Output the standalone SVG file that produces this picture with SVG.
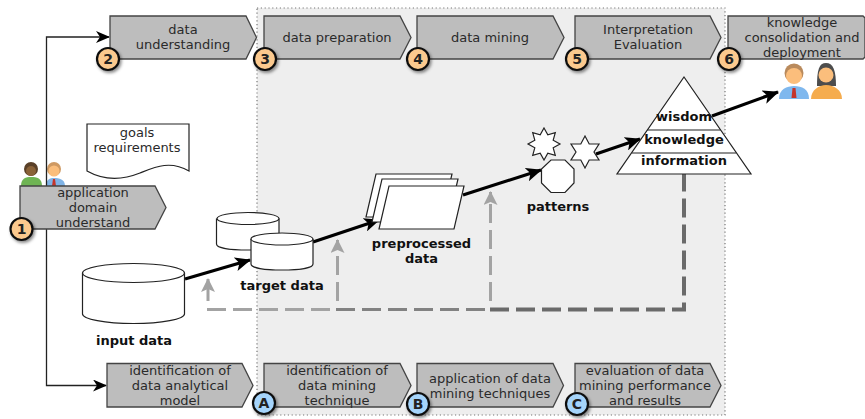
<svg xmlns="http://www.w3.org/2000/svg" width="865" height="419" viewBox="0 0 865 419">
<style>
text{font-family:"DejaVu Sans",sans-serif;font-size:13px;fill:#2a2a2a;text-anchor:middle}
.b{font-weight:bold;fill:#111}
.ch{fill:#bdbdbd;stroke:#444;stroke-width:1.3}
.w{fill:#fff;stroke:#222;stroke-width:1.2}
.co{fill:#fbc98e;stroke:#111;stroke-width:2.2;filter:url(#sh)}
.cb{fill:#a5d4fb;stroke:#111;stroke-width:2.2;filter:url(#sh)}
.n{font-weight:bold;font-size:14px;fill:#222}
.thin{fill:none;stroke:#222;stroke-width:1.3}
.thick{fill:none;stroke:#000;stroke-width:3.2}
</style>
<defs>
<filter id="sh" x="-40%" y="-40%" width="200%" height="200%"><feDropShadow dx="1.5" dy="2" stdDeviation="1.5" flood-color="#000" flood-opacity=".45"/></filter>
<marker id="a1" viewBox="0 0 14 12" refX="13" refY="6" markerUnits="userSpaceOnUse" markerWidth="14" markerHeight="12" orient="auto"><path d="M0 0L14 6L0 12L4 6Z" fill="#000"/></marker>
<marker id="a2" viewBox="0 0 16 14" refX="15" refY="7" markerUnits="userSpaceOnUse" markerWidth="16" markerHeight="14" orient="auto"><path d="M0 0L16 7L0 14L4 7Z" fill="#000"/></marker>
<marker id="a3" viewBox="0 0 14 14" refX="13" refY="7" markerUnits="userSpaceOnUse" markerWidth="14" markerHeight="14" orient="auto"><path d="M0 0L14 7L0 14L3 7Z" fill="#a3a3a3"/></marker>
</defs>

<rect id="region" x="257" y="8" width="468" height="407" fill="#eeeeee" stroke="#777" stroke-width="1.2" stroke-dasharray="1.2 2.6"/>

<g id="people-top">
<circle cx="31" cy="169" r="7" fill="#5a4028"/><path d="M21 186C21 178 26 177 31 177C37 177 42 178 42 186Z" fill="#6fb454"/><circle cx="31" cy="171" r="5" fill="#8a6238"/>
<circle cx="54" cy="169" r="7" fill="#cf9a63"/><circle cx="54" cy="171" r="5.500" fill="#fbbe7c"/><path d="M46 186C46 179 50 178 54 178C59 178 65 179 65 186Z" fill="#7fb3e6"/><path d="M53 179H55L56 186H52Z" fill="#c4342b"/>
</g>

<g id="connectors">
<path class="thin" d="M46.500 186V37H109" marker-end="url(#a1)"/>
<path class="thin" d="M46.500 229V385.500H106" marker-end="url(#a1)"/>
<path class="thick" d="M185 279L250 260" marker-end="url(#a2)"/>
<path class="thick" d="M313 242L379 220" marker-end="url(#a2)"/>
<path class="thick" d="M463 195L541 170" marker-end="url(#a2)"/>
<path class="thick" d="M596 154L640 139" marker-end="url(#a2)"/>
<path class="thick" d="M712 116L778 92" marker-end="url(#a2)"/>
<path fill="none" stroke="#a3a3a3" stroke-width="3" d="M208 301V279" marker-end="url(#a3)"/>
<path fill="none" stroke="#a3a3a3" stroke-width="3" stroke-dasharray="19 7" d="M337.500 301V240" marker-end="url(#a3)"/>
<path fill="none" stroke="#a3a3a3" stroke-width="3" stroke-dasharray="19 7" d="M490.500 301V192" marker-end="url(#a3)"/>
<path fill="none" stroke="#a3a3a3" stroke-width="3" stroke-dasharray="19 7" d="M207 309.500H337"/>
<path fill="none" stroke="#828282" stroke-width="3" stroke-dasharray="19 7" d="M336 309.500H490"/>
<path fill="none" stroke="#6a6a6a" stroke-width="4" stroke-dasharray="19 7" d="M490 309.500H684V174"/>
</g>

<g id="goals"><path class="w" d="M87 124H189V171C170 160 155 167 140 173C120 181 103 180 87 171Z"/><text x="137" y="137">goals</text><text x="137" y="152">requirements</text></g>

<g id="node1"><path class="ch" d="M20 186H155L166 207.500L155 229H20Z"/><text x="93" y="197">application</text><text x="93" y="212">domain</text><text x="93" y="227">understand</text><circle class="co" cx="21.500" cy="229" r="11"/><text class="n" x="21.500" y="234">1</text></g>
<g id="node2"><path class="ch" d="M110 16H246L256.500 37.500L246 59H110Z"/><text x="183" y="34">data</text><text x="183" y="49">understanding</text><circle class="co" cx="108" cy="59" r="11"/><text class="n" x="108" y="64">2</text></g>
<g id="node3"><path class="ch" d="M264 16H400L411 37.500L400 59H264Z"/><text x="337" y="42">data preparation</text><circle class="co" cx="265" cy="59" r="11"/><text class="n" x="265" y="64">3</text></g>
<g id="node4"><path class="ch" d="M417 16H553L564 37.500L553 59H417Z"/><text x="490" y="42">data mining</text><circle class="co" cx="418" cy="59" r="11"/><text class="n" x="418" y="64">4</text></g>
<g id="node5"><path class="ch" d="M575 16H710L721 37.500L710 59H575Z"/><text x="648" y="34">Interpretation</text><text x="648" y="49">Evaluation</text><circle class="co" cx="577" cy="59" r="11"/><text class="n" x="577" y="64">5</text></g>
<g id="node6"><path class="ch" d="M728 16H863L865 18V57L863 59H728Z"/><text x="802" y="27">knowledge</text><text x="802" y="42">consolidation and</text><text x="802" y="57">deployment</text><circle class="co" cx="729" cy="59" r="11"/><text class="n" x="729" y="64">6</text></g>

<g id="nodeM"><path class="ch" d="M107 363.500H242L253 385.500L242 407H107Z"/><text x="180" y="375">identification of</text><text x="180" y="390">data analytical</text><text x="180" y="405">model</text></g>
<g id="nodeA"><path class="ch" d="M264 363.500H400L411 385.500L400 407H264Z"/><text x="337" y="375">identification of</text><text x="337" y="390">data mining</text><text x="337" y="405">technique</text><circle class="cb" cx="264" cy="403" r="11"/><text class="n" x="264" y="408">A</text></g>
<g id="nodeB"><path class="ch" d="M417 363.500H553L563.500 385.500L553 407H417Z"/><text x="490" y="383">application of data</text><text x="490" y="398">mining techniques</text><circle class="cb" cx="418" cy="404" r="11"/><text class="n" x="418" y="409">B</text></g>
<g id="nodeC"><path class="ch" d="M575 363.500H710L721 385.500L710 407H575Z"/><text x="645" y="375">evaluation of data</text><text x="645" y="390">mining performance</text><text x="645" y="405">and results</text><circle class="cb" cx="577" cy="404" r="11"/><text class="n" x="577" y="409">C</text></g>

<g id="input-data"><path class="w" d="M82.500 273V314C82.500 319 105 323.500 133.500 323.500C162 323.500 184.500 319 184.500 314V273"/><ellipse class="w" cx="133.500" cy="273" rx="51" ry="9.500"/><text class="b" x="134" y="345">input data</text></g>
<g id="target-data">
<path class="w" d="M216.500 218.500V244C216.500 248 230 250 248 250C266 250 279 248 279 244V218.500"/><ellipse class="w" cx="248" cy="218.500" rx="31" ry="6"/>
<path class="w" d="M251 239V264C251 268 265 270 282 270C299 270 313 268 313 264V239"/><ellipse class="w" cx="282" cy="239" rx="31" ry="6"/><text class="b" x="282" y="290">target data</text></g>
<g id="preprocessed"><path class="w" d="M376 174H452L442 217H366Z"/><path class="w" d="M382 179H458L448 222H372Z"/><path class="w" d="M389 186H464L454 229H379Z"/><text class="b" x="421.500" y="248">preprocessed</text><text class="b" x="421.500" y="263">data</text></g>
<g id="patterns"><path class="w" d="M551 160H565L574 169V183L565 192.500H551L541.500 183V169Z"/>
<path class="w" d="M544 128L547.800 134.800L555.300 132.700L553.200 140.200L560 144L553.200 147.800L555.300 155.300L547.800 153.200L544 160L540.200 153.200L532.700 155.300L534.800 147.800L528 144L534.800 140.200L532.700 132.700L540.200 134.800Z"/>
<path class="w" d="M585 136L589.200 144L599 144L594 152L599 160L589.200 160L585 168L580.800 160L571 160L576 152L571 144L580.800 144Z"/><text class="b" x="558" y="211">patterns</text></g>
<g id="pyramid"><path class="w" d="M684 77L751 174H617Z"/><path class="w" d="M647.500 130H720.500M632 153H736"/><text class="b" x="684" y="121">wisdom</text><text class="b" x="684" y="144">knowledge</text><text class="b" x="684" y="165">information</text></g>
<g id="people-end">
<circle cx="794" cy="73" r="9.500" fill="#b98a5c"/><circle cx="794" cy="76" r="8" fill="#fbbe7c"/><path d="M779 99C779 89 787 86 794 86C802 86 809 89 809 99Z" fill="#7fb8ee"/><path d="M792.500 88H795.500L796.500 98H791.500Z" fill="#c4342b"/>
<path d="M817 86C817 70 819 63 826 63C833 63 836 70 836 86Z" fill="#4d4d4d"/><circle cx="826" cy="75" r="7.500" fill="#fbbe7c"/><path d="M811 99C811 90 819 85 826 85C834 85 842 90 842 99Z" fill="#f5ac4e"/>
</g>
</svg>
